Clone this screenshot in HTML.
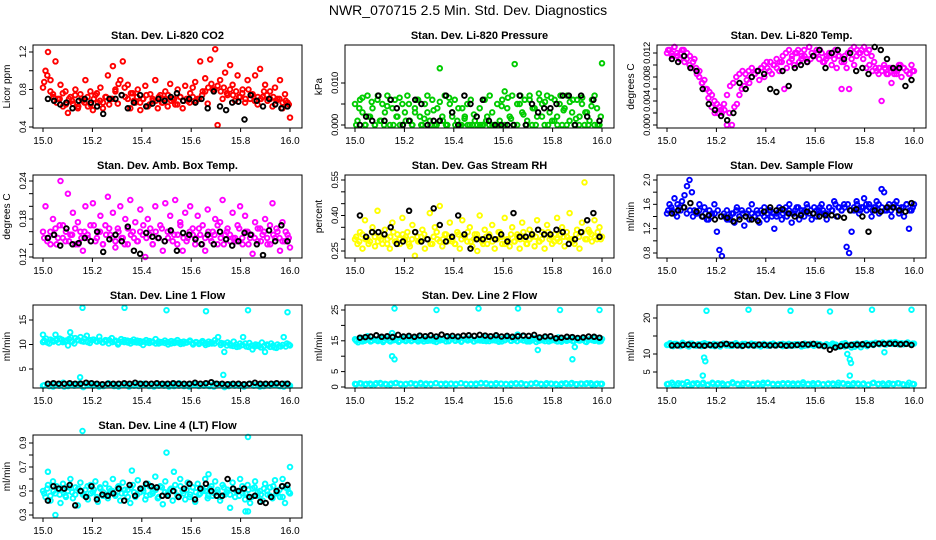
<!DOCTYPE html>
<html><head><meta charset="utf-8">
<style>
html,body{margin:0;padding:0;background:#fff;}
svg{display:block;font-family:"Liberation Sans",Arial,sans-serif;}
</style></head>
<body>
<svg id="chart" width="936" height="540" viewBox="0 0 936 540" xmlns="http://www.w3.org/2000/svg">
<rect x="0" y="0" width="936" height="540" fill="#fff"/>
<text x="468" y="15" font-size="14" text-anchor="middle" fill="#000">NWR_070715  2.5 Min. Std. Dev. Diagnostics</text>
</svg>
<script>
// ---- shared x axis ----
const xTicks=[15.0,15.2,15.4,15.6,15.8,16.0];
const xTickLabels=["15.0","15.2","15.4","15.6","15.8","16.0"];

// ---- P1 CO2 ----
const co2Red=[0.82,1.0,1.2,0.9,0.75,1.1,0.7,0.85,0.62,0.78,0.55,0.72,0.65,0.8,0.6,0.75,0.68,0.9,0.62,0.78,
0.58,0.74,0.66,0.82,0.6,0.72,0.95,0.7,1.05,0.8,0.65,0.9,1.1,0.72,0.85,0.6,0.76,0.66,0.8,0.58,
0.7,0.84,0.62,0.75,0.68,0.9,0.6,0.74,0.66,0.78,0.62,0.86,0.7,0.64,0.8,0.72,0.6,0.84,0.68,0.76,
0.82,0.88,0.7,1.1,0.78,0.92,0.65,1.12,0.8,1.23,0.42,0.9,0.7,0.98,0.74,1.06,0.85,0.68,0.95,0.72,
0.8,0.66,0.9,0.7,0.75,0.95,0.64,1.02,0.72,0.85,0.68,0.78,0.62,0.82,0.7,0.9,0.6,0.75,0.66,0.5];
const co2Red2=[0.88,0.95,0.78,0.72,0.66,0.7,0.76,0.64,0.7,0.68,0.74,0.62,0.7,0.66,0.72,0.64,0.7,0.76,0.68,0.66,
0.72,0.64,0.7,0.78,0.86,0.74,0.82,0.7,0.76,0.68,0.72,0.66,0.7,0.74,0.64,0.7,0.68,0.72,0.66,0.7,
0.74,0.68,0.7,0.64,0.72,0.68,0.7,0.66,0.72,0.68,0.7,0.74,0.78,0.82,0.86,0.8,0.84,0.78,0.82,0.76,
0.8,0.74,0.78,0.72,0.76,0.7,0.8,0.74,0.68,0.72,0.7,0.78,0.74,0.7,0.72,0.68,0.7,0.66,0.68,0.64];
const co2Black=[0.7,0.68,0.64,0.66,0.6,0.68,0.7,0.66,0.62,0.54,0.7,0.7,0.74,0.6,0.66,0.74,0.62,0.65,0.7,0.68,0.72,0.76,0.68,0.7,0.66,0.7,0.6,0.78,0.62,0.58,0.66,0.67,0.48,0.74,0.68,0.62,0.7,0.64,0.6,0.62];
const co2YTicks=[0.4,0.6,0.8,1.0,1.2];
const co2YLabels=["0.4","","0.8","","1.2"];

// ---- P2 Pressure ----
const presGreen=[.005,.001,.006,.003,0,.007,.002,.004,0,.006,.001,.005,.003,.007,0,.004,.006,.002,0,.005,
.003,.007,.001,0,.004,.006,.002,0,.005,.003,.001,.006,0,.004,.0135,.002,.007,0,.005,.003,
.006,.001,0,.004,.002,.005,0,0,.001,0,.004,0,.006,.002,.007,.003,0,.005,.001,.006,
.008,.004,.002,.007,.0145,0,.005,.003,.006,.001,.007,0,.004,.002,.006,.005,0,.007,.003,.001,
.006,.002,.005,0,.004,.007,.001,.003,0,.006,.002,.005,0,.003,.001,.006,0,.004,0,.0147];
const presGreen2=[0,.004,.0065,0,.002,.0055,0,.007,.001,0,.0045,.006,0,.002,.0065,0,.001,.005,0,.003,
.006,0,.0015,.007,0,.0035,0,.0055,.001,0,.0065,.002,0,.004,0,.0015,0,.006,.0025,0,
0,0,.001,0,0,0,0,.0045,0,.0065,.0015,0,.005,.007,.0025,0,.006,.004,0,.0075,
.002,.0055,0,.0065,.001,0,.007,.0035,0,.0055,.006,.0015,0,.0065,.003,0,.0045,.007,0,.002];
const presBlack=[0,.002,.001,.007,.001,.006,.004,0,.001,.006,.005,0,.001,.001,.007,.003,0,.007,.005,.002,.006,.001,0,0,0,0,.007,0,.005,.003,.004,.004,.005,.007,.007,0,.007,.002,.006,.001];
const presYTicks=[0,0.005,0.010];
const presYLabels=["0.000","","0.010"];

// ---- P3 Temp ----
const tempMag=[0.012,0.0125,0.0115,0.013,0.012,0.011,0.0125,0.0105,0.012,0.010,
0.0095,0.011,0.0085,0.009,0.007,0.0075,0.006,0.0055,0.005,0.004,
0.0035,0.003,0.002,0.0025,0.0,0.002,0.0,0.003,0.0035,0.005,
0.006,0.0065,0.0075,0.007,0.008,0.0085,0.009,0.0075,0.0095,0.008,
0.0105,0.009,0.0085,0.010,0.0095,0.009,0.0105,0.006,0.0095,0.0105,
0.011,0.010,0.012,0.0105,0.0115,0.0125,0.011,0.013,0.012,0.0115,
0.0125,0.011,0.012,0.0105,0.0115,0.012,0.010,0.011,0.0095,0.0115,
0.006,0.0105,0.0095,0.006,0.011,0.010,0.0115,0.012,0.0125,0.013,
0.012,0.0125,0.0115,0.0105,0.009,0.0095,0.004,0.010,0.0085,0.0095,
0.007,0.009,0.0085,0.010,0.008,0.0095,0.009,0.0085,0.010,0.009];
const tempMag2=[0.0125,0.012,0.013,0.0115,0.012,0.0125,0.011,0.0115,0.0105,0.0095,
0.008,0.007,0.006,0.0045,0.003,0.002,0.002,0.0025,0.0035,0.005,
0.0065,0.007,0.008,0.0085,0.009,0.0085,0.009,0.0095,0.0085,0.009,
0.0095,0.010,0.0095,0.0105,0.010,0.011,0.0105,0.0115,0.012,0.0125,
0.0115,0.012,0.0125,0.011,0.0115,0.0105,0.011,0.0115,0.012,0.0125,
0.0105,0.011,0.0115,0.012,0.0125,0.0115,0.0105,0.0115,0.012,0.0125,
0.013,0.0125,0.012,0.011,0.0095,0.010,0.009,0.0095,0.0085,0.009,
0.0095,0.0085,0.0095,0.0085,0.009,0.010,0.0095,0.009,0.0085,0.009];
const tempBlack=[0.011,0.0105,0.0115,0.0095,0.009,0.006,0.0035,0.0025,0.0015,0.0008,0.002,0.007,0.006,0.008,0.009,0.0085,0.006,0.0055,0.009,0.0065,0.0095,0.010,0.0105,0.0115,0.0125,0.0095,0.012,0.0125,0.011,0.012,0.009,0.0095,0.0085,0.013,0.0125,0.011,0.0095,0.0095,0.0065,0.0075];
const tempYTicks=[0,0.002,0.004,0.006,0.008,0.010,0.012];
const tempYLabels=["0.000","","0.004","","0.008","","0.012"];

// ---- P4 Amb Box ----
const ambMag=[0.16,0.2,0.15,0.14,0.18,0.165,0.15,0.24,0.17,0.145,0.22,0.155,0.19,0.14,0.175,0.16,0.13,0.2,0.15,0.17,
0.205,0.145,0.16,0.185,0.14,0.17,0.215,0.155,0.19,0.135,0.165,0.2,0.15,0.18,0.14,0.21,0.16,0.175,0.145,0.195,
0.155,0.12,0.18,0.165,0.14,0.2,0.15,0.17,0.13,0.205,0.16,0.185,0.145,0.21,0.155,0.175,0.13,0.19,0.15,0.2,
0.165,0.14,0.185,0.155,0.17,0.13,0.195,0.15,0.16,0.18,0.14,0.175,0.21,0.155,0.165,0.145,0.19,0.15,0.17,0.2,
0.14,0.185,0.16,0.15,0.125,0.175,0.145,0.165,0.155,0.18,0.14,0.17,0.205,0.15,0.16,0.13,0.175,0.145,0.155,0.135];
const ambMag2=[0.15,0.145,0.16,0.155,0.14,0.17,0.15,0.16,0.145,0.155,0.165,0.14,0.15,0.16,0.155,0.145,0.17,0.15,0.16,0.14,
0.155,0.165,0.15,0.145,0.16,0.15,0.14,0.165,0.155,0.15,0.145,0.16,0.17,0.15,0.155,0.14,0.16,0.15,0.165,0.145,
0.15,0.16,0.155,0.14,0.17,0.15,0.145,0.16,0.155,0.15,0.165,0.14,0.15,0.16,0.145,0.155,0.17,0.15,0.14,0.16,
0.155,0.15,0.145,0.165,0.15,0.16,0.14,0.155,0.15,0.165,0.145,0.16,0.15,0.14,0.155,0.165,0.15,0.145,0.16,0.15];
const ambBlack=[0.15,0.155,0.138,0.165,0.14,0.142,0.15,0.145,0.16,0.128,0.148,0.155,0.145,0.168,0.13,0.125,0.158,0.152,0.15,0.145,0.162,0.13,0.158,0.155,0.148,0.14,0.155,0.14,0.16,0.148,0.138,0.145,0.158,0.155,0.14,0.123,0.162,0.145,0.17,0.145];
const ambYTicks=[0.12,0.14,0.16,0.18,0.20,0.22,0.24];
const ambYLabels=["0.12","","","0.18","","","0.24"];

// ---- P5 RH ----
const rhYellow=[0.3,0.28,0.33,0.26,0.38,0.3,0.29,0.35,0.27,0.42,0.31,0.28,0.34,0.3,0.26,0.37,0.29,0.32,0.28,0.39,
0.3,0.33,0.27,0.36,0.23,0.31,0.29,0.34,0.26,0.3,0.41,0.28,0.35,0.3,0.44,0.27,0.32,0.29,0.37,0.3,
0.28,0.33,0.26,0.38,0.31,0.29,0.35,0.27,0.32,0.25,0.4,0.29,0.34,0.28,0.31,0.36,0.26,0.3,0.33,0.28,
0.39,0.3,0.27,0.35,0.29,0.32,0.26,0.37,0.3,0.28,0.34,0.31,0.27,0.38,0.29,0.33,0.26,0.36,0.3,0.28,
0.32,0.39,0.29,0.35,0.27,0.31,0.41,0.3,0.28,0.34,0.26,0.37,0.54,0.3,0.33,0.29,0.38,0.3,0.35,0.31];
const rhYellow2=[0.31,0.29,0.32,0.3,0.28,0.33,0.31,0.29,0.3,0.32,0.28,0.31,0.33,0.29,0.3,0.32,0.31,0.28,0.3,0.33,
0.29,0.31,0.32,0.3,0.28,0.31,0.33,0.29,0.3,0.32,0.31,0.29,0.28,0.32,0.3,0.31,0.33,0.29,0.3,0.32,
0.3,0.28,0.31,0.32,0.29,0.3,0.33,0.31,0.28,0.3,0.32,0.29,0.31,0.3,0.33,0.28,0.3,0.32,0.31,0.29,
0.3,0.32,0.33,0.31,0.29,0.3,0.32,0.31,0.33,0.3,0.29,0.32,0.31,0.33,0.3,0.34,0.32,0.31,0.33,0.3];
const rhBlack=[0.4,0.31,0.33,0.33,0.32,0.35,0.28,0.29,0.42,0.33,0.29,0.3,0.43,0.36,0.29,0.31,0.4,0.32,0.26,0.3,0.3,0.31,0.3,0.32,0.29,0.41,0.31,0.31,0.32,0.34,0.32,0.32,0.34,0.33,0.28,0.3,0.33,0.38,0.41,0.31];
const rhYTicks=[0.25,0.30,0.35,0.40,0.45,0.50,0.55];
const rhYLabels=["0.25","","","0.40","","","0.55"];

// ---- P6 Sample flow ----
const sfBlue=[1.45,1.6,1.5,1.7,1.4,1.55,1.65,1.75,1.9,2.0,1.8,1.5,1.45,1.6,1.4,1.55,1.35,1.5,1.45,1.6,
1.15,0.85,0.75,1.4,1.5,1.35,1.45,1.3,1.55,1.4,1.5,1.25,1.45,1.35,1.6,1.4,1.5,1.3,1.45,1.55,
1.35,1.5,1.4,1.2,1.45,1.55,1.35,1.5,1.4,1.6,1.3,1.45,1.55,1.35,1.5,1.4,1.6,1.45,1.35,1.55,
1.4,1.5,1.6,1.45,1.35,1.55,1.5,1.65,1.4,1.55,1.5,1.6,0.9,0.8,1.15,1.5,1.65,1.45,1.55,1.7,
1.5,1.6,1.4,1.55,1.65,1.45,1.85,1.8,1.5,1.6,1.4,1.55,1.65,1.45,1.55,1.4,1.6,1.2,1.5,1.6];
const sfBlue2=[1.5,1.55,1.45,1.6,1.5,1.55,1.45,1.5,1.4,1.45,1.5,1.4,1.45,1.35,1.4,1.45,1.5,1.4,1.45,1.35,
1.4,1.45,1.5,1.4,1.45,1.4,1.5,1.45,1.4,1.45,1.5,1.4,1.45,1.5,1.45,1.4,1.5,1.45,1.55,1.5,
1.45,1.5,1.55,1.45,1.5,1.55,1.5,1.45,1.5,1.55,1.5,1.45,1.55,1.5,1.6,1.55,1.5,1.55,1.6,1.5,
1.55,1.6,1.5,1.55,1.6,1.55,1.5,1.55,1.6,1.55,1.5,1.55,1.5,1.6,1.55,1.5,1.55,1.6,1.5,1.55];
const sfBlack=[1.45,1.5,1.55,1.62,1.48,1.4,1.42,1.35,1.4,1.38,1.32,1.35,1.4,1.35,1.33,1.48,1.55,1.5,1.52,1.45,1.4,1.42,1.48,1.45,1.4,1.42,1.42,1.4,1.38,1.5,1.52,1.4,1.15,1.5,1.48,1.55,1.55,1.5,1.48,1.62];
const sfYTicks=[0.8,1.0,1.2,1.4,1.6,1.8,2.0];
const sfYLabels=["0.8","","1.2","","1.6","","2.0"];

// ---- shared low band (lines 1-3) ----
const l1Low=[1.6,2,1.4,1.8,2.2,1.5,1.9,1.7,1.3,2,1.6,1.8,1.5,2.1,1.7,1.4,1.9,1.6,1.8,1.5,2,1.7,1.4,1.9,1.6,1.8,1.5,2.1,1.7,1.4,1.9,1.6,1.8,1.5,2,1.7,1.3,1.9,1.6,1.8,1.5,2,1.7,1.4,1.9,1.6,1.8,1.5,2,1.6];
const l1Low2=[1.7,1.5,1.9,1.6,1.4,1.8,1.6,2,1.5,1.7,1.9,1.4,1.6,1.8,1.5,1.9,1.7,1.4,1.6,2,1.8,1.5,1.7,1.6,1.9,1.4,1.8,1.6,1.5,1.9,1.7,1.5,1.6,1.8,1.4,1.9,1.7,1.5,1.8,1.6,1.4,1.9,1.6,1.8,1.5,1.7,1.9,1.6,1.4,1.7];

// ---- P7 Line 1 ----
const l1High=[10.5,11.2,10.2,10.8,12,10.4,11,10.6,9.8,11.4,10.2,10.9,11.5,10.6,11.8,10.3,11,10.7,11.6,10.4,
10.9,10.2,11.3,10.6,10,11.1,10.5,10.8,10.2,11,10.4,10.7,9.9,10.9,10.3,10.6,11.1,10.2,10.5,10.8,
10,10.7,10.3,10.9,10.1,10.6,10.4,10.8,10,10.5,10.3,10.7,9.9,10.6,10.2,10.9,11.5,10.3,8.5,10.4,
9.8,10.6,9.5,10.2,11.5,9.6,10.3,9,10,9.7,10.4,8.5,9.8,10.2,9.4,10,9.6,11.5,10.2,9.8];
const l1High2=[10.8,10.4,11,10.6,10.9,11.2,10.5,10.8,11.1,10.6,11.3,10.9,10.7,11.2,10.5,10.9,11,10.6,10.8,10.4,
10.7,10.9,10.5,10.8,10.3,10.6,10.9,10.4,10.7,10.5,10.8,10.3,10.6,10.4,10.7,10.5,10.2,10.6,10.4,10.3,
10.5,10.2,10.6,10.4,10.5,10.2,10.4,10.6,10.3,10.5,10.1,10.4,10.3,10.1,10.4,10.2,10.6,9.9,10.2,9.8,
10.1,9.7,10,9.6,9.9,10.2,9.5,9.8,9.6,9.9,9.4,9.7,10,9.5,9.8,9.3,9.7,9.9,9.6,10];
const l1OutTimes=[15.16,15.33,15.5,15.66,15.83,15.99,15.15,15.73,15.0,15.11];
const l1OutVals=[17.5,17.5,17,16.8,17,16.6,3.3,3.8,12,12.5];
const l1Black=[2,2.1,2,2,2.1,2,2,2.2,2.1,2,1.9,2,2,2,2.1,2,2.2,2,2,2,2.1,2,2,2.1,2,2,2,2.2,2,2.1,2.3,2,2,1.9,2,2,1.9,2,2.2,2,2,2,2.1,2,2];
const l1YTicks=[5,10,15];
const l1YLabels=["5","10","15"];

// ---- P8 Line 2 ----
const l2High=[15.5,14.5,16,15,16.5,14.8,15.6,15.2,16.2,14.6,15.8,15,16.4,15.3,14.7,15.9,15.1,16.1,14.9,15.6,
15.2,16.3,14.8,15.7,15.1,16,14.6,15.5,15.3,16.2,14.9,15.8,15.2,16.1,14.7,15.6,15.4,16,14.8,15.5,
15.1,16.3,14.9,15.7,15.2,16,14.7,15.6,15.3,16.2,15,15.8,17,15.4,16.5,14.8,15.5,15.9,14.6,15.7,
15.2,16,14.8,15.5,15.1,16.1,14.7,15.6,15.3,16,14.9,15.4,15.1,15.9,14.6,15.5,15.2,16,14.8,15.6];
const l2High2=[15,15.4,14.8,15.2,15.6,15,15.3,14.9,15.5,15.1,15.4,14.8,15.2,15.6,15,15.3,14.9,15.5,15.1,15.4,
14.8,15.2,15.6,15,15.3,14.9,15.5,15.1,15.4,14.8,15.2,15.6,15,15.3,14.9,15.5,15.1,15.4,14.8,15.2,
15.6,15,15.3,14.9,15.5,15.1,15.4,14.8,15.2,15.6,15,15.3,14.9,15.5,15.1,15.4,14.8,15.2,15.6,15,
15.3,14.9,15.5,15.1,15.4,14.8,15.2,15.6,15,15.3,14.9,15.5,15.1,15.4,14.8,15.2,15.6,15,15.3,14.9];
const l2Low=[1,1.2,0.8,1.1,0.9,1.3,1,0.8,1.2,1,0.9,1.1,1,1.3,0.8,1,1.2,0.9,1.1,1,0.8,1.2,1,0.9,1.1,1.3,1,0.8,1.2,1,0.9,1.1,1,1.2,0.8,1,1.1,0.9,1.2,1,0.8,1.1,1,1.3,0.9,1,1.2,0.8,1.1,1];
const l2Low2=[0.9,1.1,1,0.8,1.2,1,0.9,1.1,1.3,0.9,1,1.2,0.8,1,1.1,0.9,1.2,1,0.8,1.1,1,1.2,0.9,1,0.8,1.1,1.2,1,0.9,1.1,1,0.8,1.2,1,0.9,1.1,1.3,1,0.9,1.1,1,0.8,1.2,1,0.9,1.1,1,1.2,0.9,1];
const l2OutTimes=[15.16,15.33,15.5,15.66,15.83,15.99,15.15,15.16,15.74,15.88,15.89,15.15];
const l2OutVals=[25.5,25,25.5,25.5,25,25,10,9,12,9,13,17.5];
const l2Black=[16,16.2,16.4,16.8,16.3,16.5,16.2,16.9,16.4,16.6,16.3,16.7,16.5,16.8,16.4,17,16.5,16.6,16.4,16.7,16.8,16.6,16.9,16.7,16.5,16.8,16.4,16.6,16.3,16.5,16.7,16.6,16.9,16.1,16.4,16.5,15.8,16,16.3,16.2,15.9,16.1,16.4,16.3,16];
const l2YTicks=[0,5,10,15,20,25];
const l2YLabels=["0","5","","15","","25"];

// ---- P9 Line 3 ----
const l3High=[12.5,13,12.2,12.8,12.4,13.1,12.6,12.1,12.9,12.4,12.7,12.2,13,12.5,12.3,12.8,12.6,12.1,12.9,12.4,
12.7,12.3,13,12.5,12.2,12.8,12.4,12.9,12.3,12.6,12.1,12.8,12.5,12.3,12.9,12.4,12.7,12.2,12.6,12.8,
12.3,12.7,12.5,12.1,12.9,12.4,12.6,12.3,12.8,12.5,12.2,12.7,12.4,12.9,12.6,12.1,12.8,13,12.3,11.8,
12,12.4,11.9,12.6,12.2,12.8,12.5,13,12.7,13.2,12.6,13.1,12.8,13.3,12.7,13,12.9,13.2,12.6,12.9];
const l3High2=[12.6,12.3,12.8,12.5,12.2,12.7,12.4,12.9,12.5,12.3,12.6,12.8,12.4,12.7,12.5,12.2,12.6,12.4,12.8,12.5,
12.3,12.7,12.5,12.4,12.8,12.6,12.3,12.5,12.7,12.4,12.6,12.5,12.3,12.7,12.5,12.4,12.6,12.8,12.5,12.3,
12.6,12.4,12.7,12.5,12.3,12.6,12.8,12.4,12.5,12.7,12.3,12.6,12.4,12.5,12.2,12,12.3,12.1,12.4,12.6,
12.7,12.9,12.6,12.8,13,12.7,12.9,13.1,12.8,13,12.7,12.9,13.2,12.8,13,12.9,12.7,13,12.8,12.9];
const l3OutTimes=[15.16,15.33,15.5,15.66,15.83,15.99,15.15,15.155,15.145,15.73,15.74,15.745,15.74,15.88];
const l3OutVals=[22,22.3,22,21.8,22.3,22.3,9,8,4,10,8.5,7.5,4,10.5];
const l3Black=[12.4,12.4,12.5,12.6,12.5,12.4,12.3,12.5,12.4,12.6,12.8,12.5,12.4,12.3,12.5,12.4,12.6,12.5,12.4,12.4,12.5,12.3,12.4,12.5,12.7,12.6,12.8,12.4,12.2,11.2,11.8,12.2,12.4,12.5,12.6,12.7,12.5,12.6,12.9,12.8,12.9,12.8,12.7,12.8,12.5];
const l3YTicks=[5,10,15,20];
const l3YLabels=["5","10","","20"];

// ---- P10 Line 4 ----
const l4Cyan=[0.5,0.45,0.55,0.42,0.58,0.48,0.52,0.4,0.56,0.46,0.5,0.6,0.44,0.53,0.38,0.57,0.47,0.51,0.43,0.55,
0.49,0.58,0.41,0.52,0.46,0.56,0.44,0.5,0.6,0.47,0.53,0.42,0.57,0.48,0.51,0.4,0.55,0.45,0.59,0.49,
0.52,0.43,0.56,0.47,0.5,0.62,0.44,0.54,0.39,0.58,0.48,0.51,0.42,0.55,0.46,0.6,0.5,0.43,0.57,0.47,
0.53,0.41,0.56,0.48,0.5,0.6,0.44,0.52,0.46,0.58,0.49,0.42,0.55,0.47,0.51,0.36,0.57,0.45,0.5,0.6,
0.48,0.43,0.55,0.4,0.52,0.58,0.46,0.5,0.42,0.56,0.47,0.53,0.44,0.59,0.49,0.45,0.54,0.4,0.52,0.48];
const l4Cyan2=[0.48,0.52,0.46,0.5,0.54,0.47,0.51,0.45,0.53,0.49,0.47,0.52,0.5,0.46,0.54,0.48,0.51,0.45,0.53,0.49,
0.47,0.52,0.5,0.46,0.54,0.48,0.51,0.45,0.53,0.49,0.47,0.52,0.5,0.46,0.54,0.48,0.51,0.45,0.53,0.49,
0.47,0.52,0.5,0.46,0.54,0.48,0.51,0.45,0.53,0.49,0.47,0.52,0.5,0.46,0.54,0.48,0.51,0.45,0.53,0.49,
0.47,0.52,0.5,0.46,0.54,0.48,0.51,0.45,0.53,0.49,0.47,0.52,0.5,0.46,0.54,0.48,0.51,0.45,0.53,0.49];
const l4OutTimes=[15.16,15.5,15.83,16.0,15.05,15.02,15.36,15.53,15.67,15.97,15.82,15.83];
const l4OutVals=[1.0,0.82,0.95,0.7,0.3,0.66,0.67,0.66,0.64,0.6,0.33,0.33];
const l4Black=[0.42,0.54,0.52,0.52,0.55,0.38,0.5,0.45,0.54,0.43,0.47,0.46,0.48,0.52,0.42,0.55,0.46,0.52,0.56,0.54,0.53,0.46,0.46,0.5,0.45,0.52,0.56,0.43,0.52,0.56,0.5,0.46,0.46,0.6,0.52,0.5,0.52,0.45,0.46,0.41,0.4,0.45,0.5,0.54,0.55];
const l4YTicks=[0.3,0.4,0.5,0.6,0.7,0.8,0.9];
const l4YLabels=["0.3","","0.5","","0.7","","0.9"];

const NS='http://www.w3.org/2000/svg';
const svg=document.getElementById('chart');
function el(tag,a,parent){const e=document.createElementNS(NS,tag);for(const k in a)e.setAttribute(k,a[k]);(parent||svg).appendChild(e);return e;}

function drawPanel(p){
  const ox=312*p.col, oy=130*p.row;
  const L=33+ox, R=302+ox, T=45+oy, B=128+oy;
  const x15=43+ox, x16=290+ox;
  const xs=t=>x15+(t-15)*(x16-x15);
  const ys=v=>T+p.p1+(v-p.v1)*(p.p2-p.p1)/(p.v2-p.v1);
  const g=el('g',{});
  
  
  const title=el('text',{x:(L+R)/2,y:T-6,'font-size':11,'font-weight':'bold','text-anchor':'middle'},g);
  title.textContent=p.title;
  
  
  const yt=el('text',{x:0,y:0,'font-size':10,'text-anchor':'middle',transform:`translate(${L-23},${(T+B)/2}) rotate(-90)`},g);
  yt.textContent=p.ylab;
  
  
  p.series.forEach(s=>{
    const sg=el('g',{fill:'none',stroke:s.color,'stroke-width':1.9},g);
    
    
    const n=s.vals.length;
    s.vals.forEach((v,i)=>{
      const t=s.times?s.times[i]:s.t0+(s.t1-s.t0)*i/(n-1);
      const c=el('circle',{cx:xs(t).toFixed(1),cy:ys(v).toFixed(1),r:2.3},sg);
      
      
    });
  });
  const fr=el('rect',{x:L,y:T,width:R-L,height:B-T,fill:'none',stroke:'#000','stroke-width':1},g);
  
  
  const xa=el('g',{},g);
  
  
  el('line',{x1:xs(xTicks[0]),x2:xs(xTicks[xTicks.length-1]),y1:B,y2:B,stroke:'#000'},xa);
  xTicks.forEach((t,i)=>{
    el('line',{x1:xs(t),x2:xs(t),y1:B,y2:B+4,stroke:'#000'},xa);
    const tx=el('text',{x:xs(t),y:B+16,'font-size':10,'text-anchor':'middle'},xa);
    tx.textContent=xTickLabels[i];
    
    
  });
  const ya=el('g',{},g);
  
  
  el('line',{x1:L,x2:L,y1:ys(p.yTicks[0]),y2:ys(p.yTicks[p.yTicks.length-1]),stroke:'#000'},ya);
  p.yTicks.forEach((v,i)=>{
    el('line',{x1:L-4,x2:L,y1:ys(v),y2:ys(v),stroke:'#000'},ya);
    if(p.yLabels[i]){
      const tx=el('text',{x:0,y:0,'font-size':9.5,'letter-spacing':'-0.4','text-anchor':'middle',transform:`translate(${L-7},${ys(v)}) rotate(-90)`},ya);
      tx.textContent=p.yLabels[i];
      
      
    }
  });
}
const K='#000', CY='#00ffff';
const B0=15.02, B1=15.99;
const T0=15.005, T1=15.995;
drawPanel({name:'co2',col:0,row:0,title:'Stan. Dev. Li-820 CO2',ylab:'Licor ppm',v1:1.2,p1:7,v2:0.4,p2:82,yTicks:co2YTicks,yLabels:co2YLabels,
  series:[{key:'red',vals:co2Red,t0:15,t1:16,color:'#ff0000'},{key:'red-b',vals:co2Red2,t0:T0,t1:T1,color:'#ff0000'},{key:'black',vals:co2Black,t0:B0,t1:B1,color:K}]});
drawPanel({name:'pressure',col:1,row:0,title:'Stan. Dev. Li-820 Pressure',ylab:'kPa',v1:0.010,p1:38,v2:0,p2:80,yTicks:presYTicks,yLabels:presYLabels,
  series:[{key:'green',vals:presGreen,t0:15,t1:16,color:'#00cc00'},{key:'green-b',vals:presGreen2,t0:T0,t1:T1,color:'#00cc00'},{key:'black',vals:presBlack,t0:B0,t1:B1,color:K}]});
drawPanel({name:'temp',col:2,row:0,title:'Stan. Dev. Li-820 Temp.',ylab:'degrees C',v1:0.012,p1:8,v2:0,p2:80,yTicks:tempYTicks,yLabels:tempYLabels,
  series:[{key:'magenta',vals:tempMag,t0:15,t1:16,color:'#ff00ff'},{key:'magenta-b',vals:tempMag2,t0:T0,t1:T1,color:'#ff00ff'},{key:'black',vals:tempBlack,t0:B0,t1:B1,color:K}]});
drawPanel({name:'amb-box',col:0,row:1,title:'Stan. Dev. Amb. Box Temp.',ylab:'degrees C',v1:0.24,p1:6,v2:0.12,p2:82,yTicks:ambYTicks,yLabels:ambYLabels,
  series:[{key:'magenta',vals:ambMag,t0:15,t1:16,color:'#ff00ff'},{key:'magenta-b',vals:ambMag2,t0:T0,t1:T1,color:'#ff00ff'},{key:'black',vals:ambBlack,t0:B0,t1:B1,color:K}]});
drawPanel({name:'rh',col:1,row:1,title:'Stan. Dev. Gas Stream RH',ylab:'percent',v1:0.55,p1:5,v2:0.25,p2:76,yTicks:rhYTicks,yLabels:rhYLabels,
  series:[{key:'yellow',vals:rhYellow,t0:15,t1:16,color:'#ffff00'},{key:'yellow-b',vals:rhYellow2,t0:T0,t1:T1,color:'#ffff00'},{key:'black',vals:rhBlack,t0:B0,t1:B1,color:K}]});
drawPanel({name:'sample-flow',col:2,row:1,title:'Stan. Dev. Sample Flow',ylab:'ml/min',v1:2.0,p1:5,v2:0.8,p2:78,yTicks:sfYTicks,yLabels:sfYLabels,
  series:[{key:'blue',vals:sfBlue,t0:15,t1:16,color:'#0000ff'},{key:'blue-b',vals:sfBlue2,t0:T0,t1:T1,color:'#0000ff'},{key:'black',vals:sfBlack,t0:B0,t1:B1,color:K}]});
drawPanel({name:'line1',col:0,row:2,title:'Stan. Dev. Line 1 Flow',ylab:'ml/min',v1:15,p1:15,v2:5,p2:64,yTicks:l1YTicks,yLabels:l1YLabels,
  series:[{key:'cyan-high',vals:l1High,t0:15,t1:16,color:CY},{key:'cyan-high-b',vals:l1High2,t0:T0,t1:T1,color:CY},{key:'cyan-low',vals:l1Low,t0:15,t1:16,color:CY},{key:'cyan-low-b',vals:l1Low2,t0:T0,t1:T1,color:CY},{key:'cyan-outlier',vals:l1OutVals,times:l1OutTimes,color:CY},{key:'black',vals:l1Black,t0:B0,t1:B1,color:K}]});
drawPanel({name:'line2',col:1,row:2,title:'Stan. Dev. Line 2 Flow',ylab:'ml/min',v1:25,p1:5,v2:0,p2:82,yTicks:l2YTicks,yLabels:l2YLabels,
  series:[{key:'cyan-high',vals:l2High,t0:15,t1:16,color:CY},{key:'cyan-high-b',vals:l2High2,t0:T0,t1:T1,color:CY},{key:'cyan-low',vals:l2Low,t0:15,t1:16,color:CY},{key:'cyan-low-b',vals:l2Low2,t0:T0,t1:T1,color:CY},{key:'cyan-outlier',vals:l2OutVals,times:l2OutTimes,color:CY},{key:'black',vals:l2Black,t0:B0,t1:B1,color:K}]});
drawPanel({name:'line3',col:2,row:2,title:'Stan. Dev. Line 3 Flow',ylab:'ml/min',v1:20,p1:13,v2:5,p2:67,yTicks:l3YTicks,yLabels:l3YLabels,
  series:[{key:'cyan-high',vals:l3High,t0:15,t1:16,color:CY},{key:'cyan-high-b',vals:l3High2,t0:T0,t1:T1,color:CY},{key:'cyan-low',vals:l1Low,t0:15,t1:16,color:CY},{key:'cyan-low-b',vals:l1Low2,t0:T0,t1:T1,color:CY},{key:'cyan-outlier',vals:l3OutVals,times:l3OutTimes,color:CY},{key:'black',vals:l3Black,t0:B0,t1:B1,color:K}]});
drawPanel({name:'line4',col:0,row:3,title:'Stan. Dev. Line 4 (LT) Flow',ylab:'ml/min',v1:0.9,p1:8,v2:0.3,p2:80,yTicks:l4YTicks,yLabels:l4YLabels,
  series:[{key:'cyan',vals:l4Cyan,t0:15,t1:16,color:CY},{key:'cyan-b',vals:l4Cyan2,t0:T0,t1:T1,color:CY},{key:'cyan-outlier',vals:l4OutVals,times:l4OutTimes,color:CY},{key:'black',vals:l4Black,t0:B0,t1:B1,color:K}]});
</script>
</body></html>
